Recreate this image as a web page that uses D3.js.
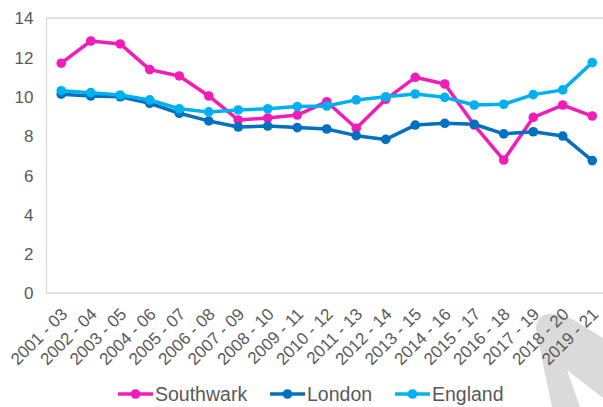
<!DOCTYPE html>
<html>
<head>
<meta charset="utf-8">
<script src="https://cdn.jsdelivr.net/npm/d3@7"></script>
<style>
  body { margin: 0; background: #fff; }
  svg { display: block; font-family: "Liberation Sans", Arial, sans-serif; }
</style>
</head>
<body>
<div class="chart"></div>
<script>
const periods = ["2001 - 03", "2002 - 04", "2003 - 05", "2004 - 06", "2005 - 07", "2006 - 08",
  "2007 - 09", "2008 - 10", "2009 - 11", "2010 - 12", "2011 - 13", "2012 - 14", "2013 - 15",
  "2014 - 16", "2015 - 17", "2016 - 18", "2017 - 19", "2018 - 20", "2019 - 21"];

const southwark = [11.7, 12.83, 12.68, 11.37, 11.05, 10.03, 8.81, 8.91, 9.06, 9.74, 8.39, 9.86,
  10.98, 10.64, 8.55, 6.77, 8.94, 9.57, 9.01];
const london = [10.12, 10.03, 9.99, 9.66, 9.15, 8.76, 8.45, 8.5, 8.42, 8.35, 8.01, 7.82,
  8.55, 8.64, 8.59, 8.1, 8.21, 7.99, 6.74];
const england = [10.3, 10.2, 10.08, 9.83, 9.38, 9.22, 9.32, 9.38, 9.49, 9.52, 9.83, 9.99,
  10.13, 9.96, 9.57, 9.61, 10.1, 10.34, 11.73];

const yTicks = [0, 2, 4, 6, 8, 10, 12, 14];

const series = [
  { name: "Southwark", values: southwark, color: "#f21cb8" },
  { name: "London", values: london, color: "#0070c0" },
  { name: "England", values: england, color: "#00b0f0" }
];

const width = 603, height = 407;
const plot = { left: 46.5, top: 18, right: 607, bottom: 293 };

const svg = d3.select("div.chart").append("svg")
  .attr("width", width)
  .attr("height", height);

// grey decorative mark in bottom-right corner (behind everything)
svg.append("path")
  .attr("d", "M536,330 Q536,314 551,314 Q566,314 580,324 L603,338 L603,398 L567,370 L580,407 L552,407 Z")
  .attr("fill", "#dadada");

const x = d3.scaleBand()
  .domain(periods)
  .range([plot.left, plot.right]);

const y = d3.scaleLinear()
  .domain([0, 14])
  .range([plot.bottom, plot.top]);

// plot frame
svg.append("path")
  .attr("d", `M${plot.right},${plot.top} H${plot.left} V${plot.bottom} H${plot.right}`)
  .attr("fill", "none")
  .attr("stroke", "#d9d9d9")
  .attr("stroke-width", 1.3);

// y axis labels
const yAxis = svg.append("g")
  .attr("transform", `translate(${plot.left},0)`)
  .call(d3.axisLeft(y).tickValues(yTicks).tickSize(0).tickPadding(13));
yAxis.select(".domain").remove();
yAxis.selectAll("text")
  .attr("fill", "#595959")
  .style("font-size", "17px")
  .attr("dy", "0.35em");

// x axis labels, rotated
const xAxis = svg.append("g")
  .attr("transform", `translate(0,${plot.bottom})`)
  .call(d3.axisBottom(x).tickSize(0));
xAxis.select(".domain").remove();
xAxis.selectAll("text")
  .attr("fill", "#595959")
  .style("font-size", "17px")
  .attr("text-anchor", "end")
  .attr("x", 0)
  .attr("y", 0)
  .attr("dy", "0.35em")
  .attr("transform", "translate(3,18) rotate(-45)");

const cx = d => x(d) + x.bandwidth() / 2;

const line = d3.line()
  .x((v, i) => cx(periods[i]))
  .y(v => y(v));

series.forEach(s => {
  const g = svg.append("g").attr("class", "series");
  g.append("path")
    .datum(s.values)
    .attr("fill", "none")
    .attr("stroke", s.color)
    .attr("stroke-width", 3.5)
    .attr("stroke-linejoin", "round")
    .attr("d", line);
  g.selectAll("circle")
    .data(s.values)
    .enter().append("circle")
    .attr("cx", (v, i) => cx(periods[i]))
    .attr("cy", v => y(v))
    .attr("r", 4.8)
    .attr("fill", s.color);
});

// legend
const legendX = [118, 270, 395];
const legend = svg.append("g").attr("class", "legend");
series.forEach((s, i) => {
  const lg = legend.append("g").attr("transform", `translate(${legendX[i]},394)`);
  lg.append("line")
    .attr("x1", 0).attr("x2", 35)
    .attr("stroke", s.color)
    .attr("stroke-width", 3.5);
  lg.append("circle")
    .attr("cx", 17.5)
    .attr("r", 4.8)
    .attr("fill", s.color);
  lg.append("text")
    .attr("x", 37)
    .attr("dy", "0.36em")
    .attr("fill", "#595959")
    .style("font-size", "19.5px")
    .text(s.name);
});
</script>
</body>
</html>
